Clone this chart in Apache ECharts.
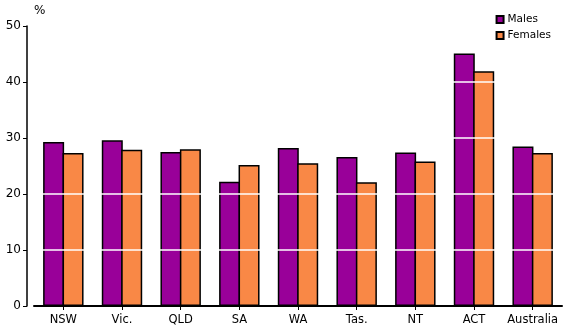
<!DOCTYPE html>
<html>
<head>
<meta charset="utf-8">
<script src="https://cdn.jsdelivr.net/npm/echarts@6/dist/echarts.min.js"></script>
<style>html,body{margin:0;padding:0;background:#fff}#c{width:567px;height:331px}</style>
</head>
<body>
<div id="c"></div>
<script>
var categories = ['NSW', 'Vic.', 'QLD', 'SA', 'WA', 'Tas.', 'NT', 'ACT', 'Australia'];
var males = [29.3, 29.6, 27.5, 22.2, 28.2, 26.6, 27.4, 45.1, 28.5];
var females = [27.3, 27.9, 28.0, 25.2, 25.5, 22.1, 25.8, 41.9, 27.3];
var yTicks = [0, 10, 20, 30, 40, 50];

var font = 'DejaVu Sans';
var chart = echarts.init(document.getElementById('c'), null, {renderer: 'canvas'});
chart.setOption({
  animation: false,
  backgroundColor: '#fff',
  textStyle: {fontFamily: font},
  grid: {left: 34, right: 5, top: 26, bottom: 25, containLabel: false},
  legend: {
    orient: 'vertical', right: 11, top: 9,
    itemWidth: 7, itemHeight: 7, itemGap: 5,
    icon: 'rect',
    textStyle: {fontFamily: font, fontSize: 10.5, color: '#000', padding: [0, 0, 0, -1]},
    data: ['Males', 'Females']
  },
  graphic: [{
    type: 'text', left: 34, top: 5,
    style: {text: '%', font: '12px "DejaVu Sans"', fill: '#000'}
  }],
  xAxis: {
    type: 'category', data: categories, z: 5,
    axisLine: {lineStyle: {color: '#000', width: 2}},
    axisTick: {show: true, alignWithLabel: true, length: 4, lineStyle: {color: '#000', width: 1}},
    axisLabel: {color: '#000', fontFamily: font, fontSize: 11.5, margin: 8, interval: 0}
  },
  yAxis: {
    type: 'value', min: yTicks[0], max: yTicks[yTicks.length - 1], interval: 10,
    offset: 7, z: 4,
    axisLine: {show: true, lineStyle: {color: '#000', width: 1.5}},
    axisTick: {show: true, length: 4, lineStyle: {color: '#000', width: 1}},
    axisLabel: {color: '#000', fontFamily: font, fontSize: 12, margin: 6},
    splitLine: {show: true, lineStyle: {color: '#fff', width: 1.5}}
  },
  series: [{
    name: 'Males', type: 'bar', data: males, barGap: '-7.5%', barWidth: 21,
    itemStyle: {color: '#990099', borderColor: '#000', borderWidth: 1.5}
  }, {
    name: 'Females', type: 'bar', data: females, barGap: '-7.5%', barWidth: 21,
    itemStyle: {color: '#f98846', borderColor: '#000', borderWidth: 1.5}
  }]
});
</script>
</body>
</html>
